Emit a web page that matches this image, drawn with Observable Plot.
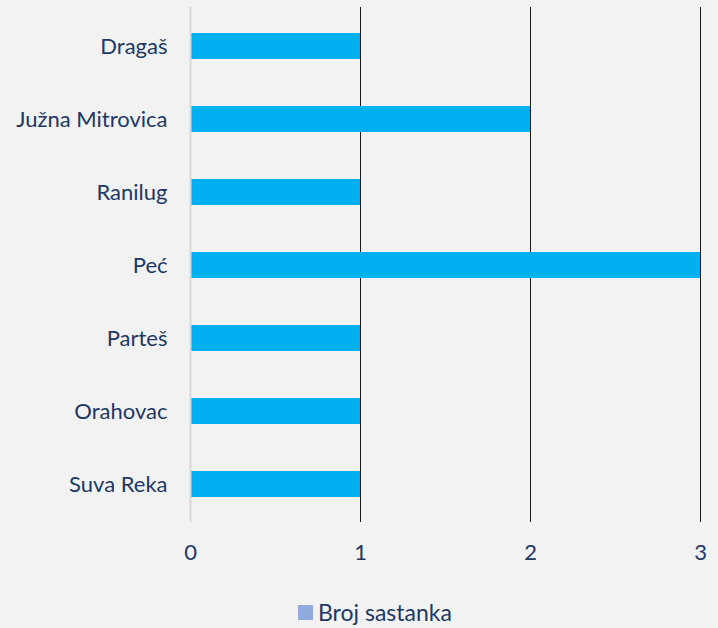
<!DOCTYPE html>
<html>
<head>
<meta charset="utf-8">
<script src="https://cdn.jsdelivr.net/npm/d3@7"></script>
<script src="https://cdn.jsdelivr.net/npm/@observablehq/plot@0.6"></script>
<style>
  html, body { margin: 0; padding: 0; background: #F2F2F2; }
  #chart { width: 718px; height: 628px; position: relative; overflow: hidden; background: #F2F2F2; }
  #legend { position: absolute; left: 298px; top: 601px; display: flex; align-items: center; font-family: Lato, "Open Sans", sans-serif; font-size: 23px; color: #203864; line-height: 1; }
  #legend .sw { width: 15px; height: 15px; background: #8FAADC; margin-right: 5px; }
</style>
</head>
<body>
<div id="chart"><div id="legend"><span class="sw"></span><span>Broj sastanka</span></div></div>
<script>
const categories = ["Dragaš", "Južna Mitrovica", "Ranilug", "Peć", "Parteš", "Orahovac", "Suva Reka"];
const values = [1, 2, 1, 3, 1, 1, 1];
const xTicks = [0, 1, 2, 3];
const seriesName = "Broj sastanka";

const data = categories.map((c, i) => ({category: c, value: values[i]}));

const plot = Plot.plot({
  width: 718,
  height: 580,
  marginLeft: 190,
  marginRight: 18,
  marginTop: 7,
  marginBottom: 58,
  style: {background: "#F2F2F2", fontFamily: "Lato, 'Open Sans', sans-serif", color: "#203864"},
  x: {domain: [0, 3], ticks: xTicks, label: null},
  y: {domain: categories, paddingInner: 0.645, paddingOuter: 0.3225, label: null},
  marks: [
    Plot.ruleX(xTicks.filter(d => d > 0), {stroke: "#1a1a1a", strokeWidth: 1}),
    Plot.barX(data, {y: "category", x: "value", fill: "#00B0F0"}),
    Plot.ruleX([0], {stroke: "#D9D9D9", strokeWidth: 2}),
    Plot.axisX({ticks: xTicks, tickSize: 0, tickPadding: 22, fontSize: 22, label: null, tickFormat: d => String(d)}),
    Plot.axisY({tickSize: 0, tickPadding: 23, fontSize: 22, label: null})
  ]
});
document.getElementById("chart").prepend(plot);
</script>
</body>
</html>
